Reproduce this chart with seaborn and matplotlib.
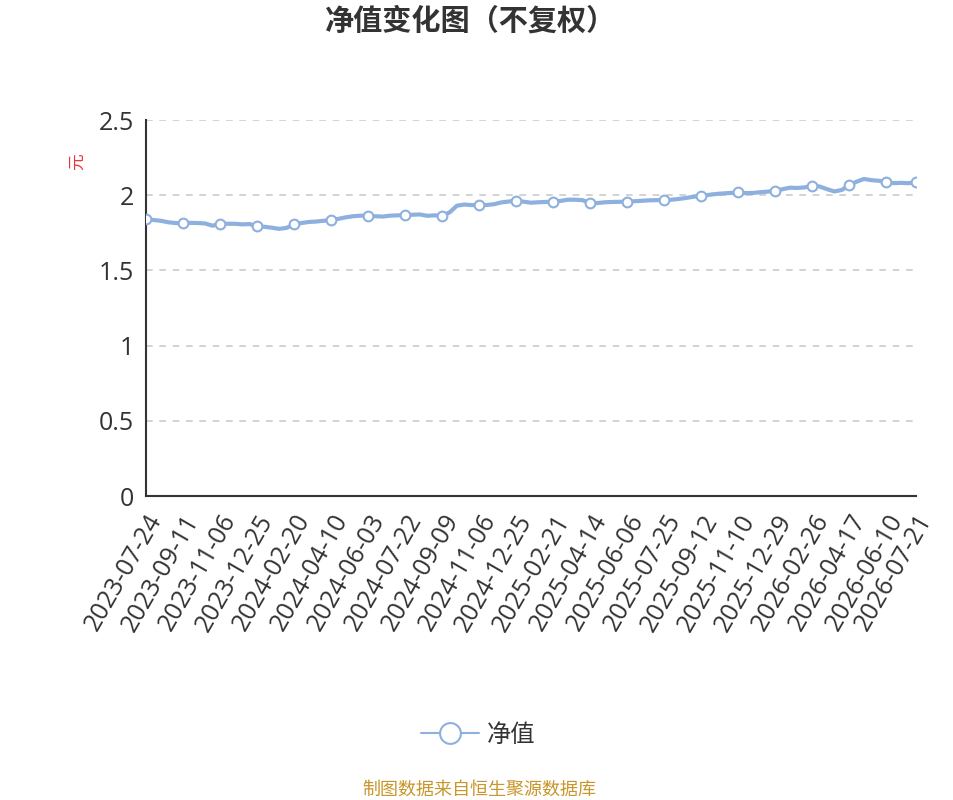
import numpy as np
import pandas as pd
import seaborn as sns
import matplotlib.pyplot as plt
from matplotlib.lines import Line2D

# tick dates (one marker per tick)
tick_dates = ['2023-07-24', '2023-09-11', '2023-11-06', '2023-12-25', '2024-02-20',
              '2024-04-10', '2024-06-03', '2024-07-22', '2024-09-09', '2024-11-06',
              '2024-12-25', '2025-02-21', '2025-04-14', '2025-06-06', '2025-07-25',
              '2025-09-12', '2025-11-10', '2025-12-29', '2026-02-26', '2026-04-17',
              '2026-06-10', '2026-07-21']

# net value, five steps between ticks (four in the last gap)
nav = [
    1.840, 1.835, 1.830, 1.820, 1.815,
    1.813, 1.816, 1.815, 1.812, 1.797,
    1.811, 1.810, 1.810, 1.806, 1.808,
    1.793, 1.790, 1.784, 1.776, 1.783,
    1.806, 1.815, 1.822, 1.825, 1.830,
    1.835, 1.843, 1.853, 1.860, 1.864,
    1.862, 1.860, 1.858, 1.864, 1.866,
    1.868, 1.870, 1.872, 1.863, 1.866,
    1.864, 1.885, 1.930, 1.938, 1.934,
    1.935, 1.935, 1.940, 1.952, 1.958,
    1.964, 1.957, 1.950, 1.953, 1.955,
    1.957, 1.962, 1.970, 1.970, 1.967,
    1.946, 1.948, 1.953, 1.955, 1.956,
    1.957, 1.960, 1.963, 1.966, 1.967,
    1.968, 1.970, 1.975, 1.982, 1.990,
    1.995, 2.002, 2.008, 2.012, 2.015,
    2.019, 2.014, 2.015, 2.020, 2.024,
    2.028, 2.040, 2.050, 2.048, 2.052,
    2.063, 2.058, 2.040, 2.025, 2.035,
    2.066, 2.090, 2.108, 2.100, 2.096,
    2.086, 2.080, 2.082, 2.080,
    2.086,
]

tick_pos = list(range(0, 101, 5)) + [104]

df = pd.DataFrame({'idx': np.arange(len(nav)), 'nav': nav})

sns.set_theme(style='white')
plt.rcParams['font.family'] = ['Open Sans', 'Noto Sans CJK SC', 'DejaVu Sans']

line_color = '#8eb0de'
text_color = '#333333'

fig = plt.figure(figsize=(9.54, 8), dpi=100)
ax = fig.add_axes([0.153, 0.38, 0.807, 0.47])

sns.lineplot(data=df, x='idx', y='nav', ax=ax, color=line_color, linewidth=3,
             legend=False)
ax.plot(tick_pos, [nav[i] for i in tick_pos], linestyle='none', marker='o',
        markersize=7, markerfacecolor='white', markeredgecolor=line_color,
        markeredgewidth=1.5, zorder=5)

ax.set_xlim(0, len(nav) - 1)
ax.set_ylim(0, 2.5)
ax.set_yticks([0, 0.5, 1, 1.5, 2, 2.5])
ax.set_yticklabels(['0', '0.5', '1', '1.5', '2', '2.5'])
ax.set_xticks(tick_pos)
ax.set_xticklabels(tick_dates, rotation=60, ha='right', rotation_mode='anchor')

ax.tick_params(axis='both', labelsize=18, colors=text_color, length=5, width=1.5,
               direction='out')
ax.tick_params(axis='x', pad=5)
ax.yaxis.grid(True, linestyle=(0, (4, 4)), color='#cccccc', linewidth=1.2)
ax.xaxis.grid(False)
for side in ['top', 'right']:
    ax.spines[side].set_visible(False)
for side in ['left', 'bottom']:
    ax.spines[side].set_color(text_color)
    ax.spines[side].set_linewidth(1.5)

ax.set_xlabel('')
ax.set_ylabel('元', color='#e8343a', fontsize=12)
ax.yaxis.set_label_coords(-0.078, 0.89)

fig.text(0.493, 0.972, '净值变化图（不复权）', ha='center', va='center', fontsize=21,
         fontweight='bold', color=text_color)

# legend handle: line with a hollow circle
handle = Line2D([], [], color=line_color, linewidth=1.5, marker='o', markersize=15,
                markerfacecolor='white', markeredgecolor=line_color, markeredgewidth=1.5)
fig.legend([handle], ['净值'], loc='center', bbox_to_anchor=(0.501, 0.08),
           frameon=False, fontsize=17.5, handlelength=2.4, handletextpad=0.3,
           labelcolor=text_color)

fig.text(0.502, 0.013, '制图数据来自恒生聚源数据库', ha='center', va='center',
         fontsize=13, color='#c8962a')

fig.savefig('out.png', dpi=100)
